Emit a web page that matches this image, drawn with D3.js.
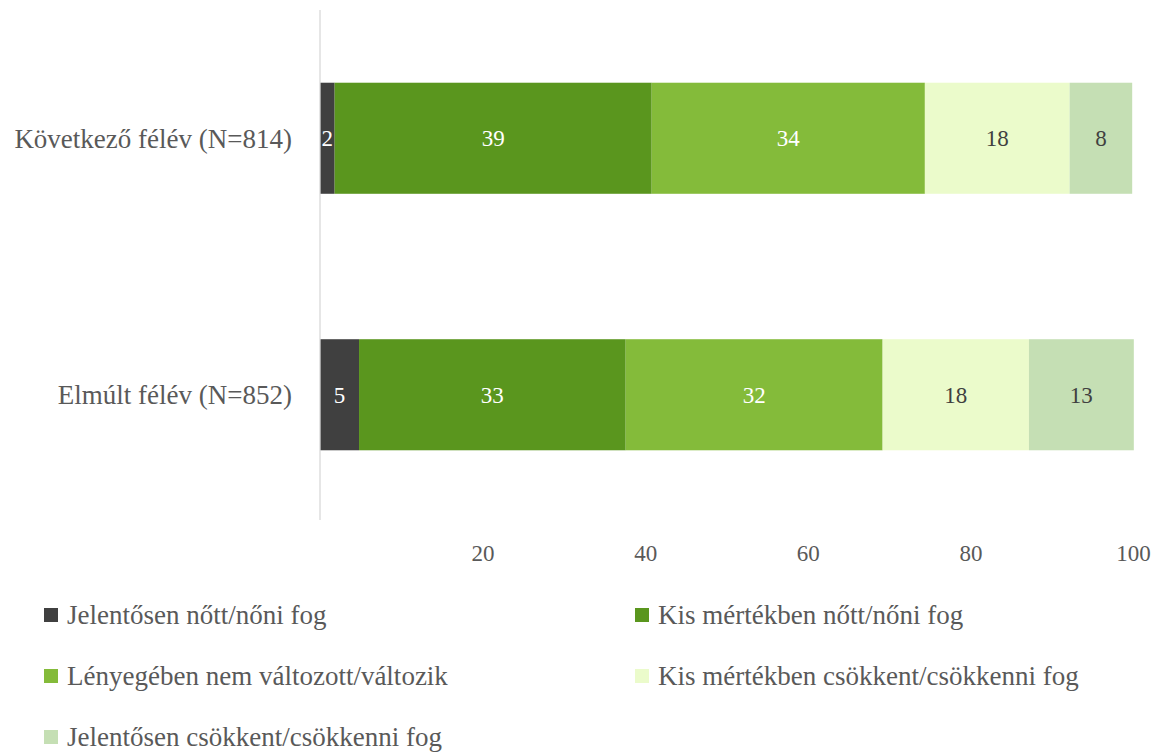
<!DOCTYPE html>
<html>
<head>
<meta charset="utf-8">
<script src="https://cdn.jsdelivr.net/npm/d3@7"></script>
<style>
  body { margin: 0; background: #fff; }
  svg text { font-family: "Liberation Serif", "DejaVu Serif", serif; }
</style>
</head>
<body>
<div id="chart"></div>
<script>
// categories (top to bottom)
const categories = ["Következő félév (N=814)", "Elmúlt félév (N=852)"];

// series, in stacking order
const seriesNames = [
    "Jelentősen nőtt/nőni fog",
    "Kis mértékben nőtt/nőni fog",
    "Lényegében nem változott/változik",
    "Kis mértékben csökkent/csökkenni fog",
    "Jelentősen csökkent/csökkenni fog"
];

// percent values per category, same order as seriesNames
const nextHalf = [1.8, 39.0, 33.6, 17.8, 7.7];
const lastHalf = [4.8, 32.8, 31.6, 18.0, 12.9];

const tickValues = [20, 40, 60, 80, 100];

const colors = ["#404040", "#5a961e", "#84bb3a", "#ebfbcb", "#c5dfb4"];
const labelColors = ["#ffffff", "#ffffff", "#ffffff", "#404040", "#404040"];

const width = 1160, height = 754;
const margin = {left: 320, right: 27, top: 10};

const svg = d3.select("#chart").append("svg")
    .attr("width", width)
    .attr("height", height);

// build stacked rows
const rows = categories.map((c, i) => {
    const vals = i === 0 ? nextHalf : lastHalf;
    const obj = {cat: c};
    seriesNames.forEach((s, j) => obj[s] = vals[j]);
    return obj;
});
const stacked = d3.stack().keys(seriesNames)(rows);

const x = d3.scaleLinear()
    .domain([0, 100])
    .range([margin.left, width - margin.right]);

const y = d3.scaleBand()
    .domain(categories)
    .range([margin.top, 523])
    .paddingInner(0.567)
    .paddingOuter(0.2835);

// bars
const layers = svg.selectAll(".layer")
    .data(stacked)
    .enter().append("g")
    .attr("class", "layer")
    .attr("fill", (d, i) => colors[i]);

layers.selectAll("rect")
    .data(d => d)
    .enter().append("rect")
    .attr("x", d => x(d[0]))
    .attr("y", d => y(d.data.cat))
    .attr("width", d => x(d[1]) - x(d[0]))
    .attr("height", y.bandwidth());

// value labels
const fmt = d3.format(".0f");
stacked.forEach((layer, i) => {
    svg.append("g").selectAll("text")
        .data(layer)
        .enter().append("text")
        .attr("x", d => (x(d[0]) + x(d[1])) / 2)
        .attr("y", d => y(d.data.cat) + y.bandwidth() / 2)
        .attr("dy", "0.35em")
        .attr("text-anchor", "middle")
        .attr("font-size", 23)
        .attr("fill", labelColors[i])
        .text(d => fmt(d[1] - d[0]));
});

// vertical axis line
svg.append("line")
    .attr("x1", x(0)).attr("x2", x(0))
    .attr("y1", margin.top).attr("y2", 520)
    .attr("stroke", "#d9d9d9")
    .attr("stroke-width", 1.3);

// category labels
svg.append("g").selectAll("text")
    .data(categories)
    .enter().append("text")
    .attr("x", 292)
    .attr("y", d => y(d) + y.bandwidth() / 2)
    .attr("dy", "0.35em")
    .attr("text-anchor", "end")
    .attr("font-size", 27)
    .attr("fill", "#595959")
    .text(d => d);

// x axis ticks (labels only)
const xAxis = d3.axisBottom(x)
    .tickValues(tickValues)
    .tickSize(0)
    .tickPadding(0);

const gx = svg.append("g")
    .attr("transform", "translate(0,545)")
    .call(xAxis);
gx.select(".domain").remove();
gx.selectAll("text")
    .attr("font-size", 23)
    .attr("font-family", "Liberation Serif, serif")
    .attr("fill", "#595959")
    .attr("dy", "0.7em");

// legend
const legend = svg.append("g").selectAll("g")
    .data(seriesNames)
    .enter().append("g")
    .attr("transform", (d, i) => `translate(${i % 2 === 0 ? 44 : 635},${615 + Math.floor(i / 2) * 61})`);

legend.append("rect")
    .attr("x", 0)
    .attr("y", -7)
    .attr("width", 14)
    .attr("height", 14)
    .attr("fill", (d, i) => colors[i]);

legend.append("text")
    .attr("x", 23)
    .attr("y", 0)
    .attr("dy", "0.35em")
    .attr("font-size", 27)
    .attr("fill", "#595959")
    .text(d => d);
</script>
</body>
</html>
